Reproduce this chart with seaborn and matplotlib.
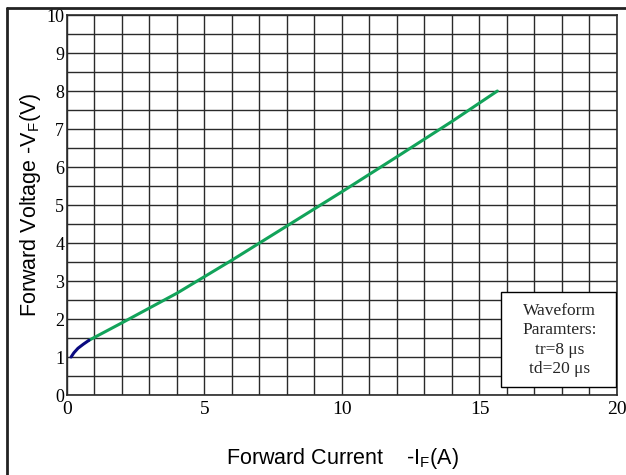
import numpy as np
import pandas as pd
import matplotlib
matplotlib.use("Agg")
import matplotlib.pyplot as plt
from matplotlib.lines import Line2D
from matplotlib.patches import Rectangle
import seaborn as sns

# forward current (A) vs forward voltage (V)
low_current = [0.15, 0.25, 0.4, 0.6, 0.8]
low_voltage = [1.0, 1.11, 1.23, 1.34, 1.44]
high_current = [0.8, 2, 4, 6, 8, 10, 12, 14, 15.65]
high_voltage = [1.44, 1.9, 2.68, 3.55, 4.45, 5.35, 6.27, 7.2, 8.0]

x_ticks = [0, 5, 10, 15, 20]
y_ticks = list(range(0, 11))
note_lines = ["Waveform", "Paramters:", "tr=8 \u03bcs", "td=20 \u03bcs"]

sns.set_theme(style="white")
plt.rcParams['font.family'] = ['Liberation Sans', 'DejaVu Sans']

fig = plt.figure(figsize=(6.26, 4.75), dpi=100)
ax = fig.add_axes([0.107, 0.1684, 0.8786, 0.80])

# grid: every 1 A across, every 0.5 V up
for gx in np.arange(0, 21, 1):
    ax.axvline(gx, color='#2a2a2a', lw=1.0, zorder=1)
for gy in np.arange(0, 10.01, 0.5):
    ax.axhline(gy, color='#2a2a2a', lw=1.0, zorder=1)

low = pd.DataFrame({'I': low_current, 'V': low_voltage})
high = pd.DataFrame({'I': high_current, 'V': high_voltage})
sns.lineplot(data=high, x='I', y='V', ax=ax, color='#12a35a', lw=2.2, zorder=3)
sns.lineplot(data=low, x='I', y='V', ax=ax, color='#0a0a80', lw=2.2, zorder=4)

ax.set_xlim(0, 20)
ax.set_ylim(0, 10)
ax.set_xticks(x_ticks)
ax.set_yticks(y_ticks)
ax.set_xticklabels([str(t) for t in x_ticks], family='Liberation Serif', fontsize=14)
ax.set_yticklabels([str(t) for t in y_ticks], family='Liberation Serif', fontsize=13)
ax.tick_params(axis='both', length=0, colors='black')
ax.tick_params(axis='x', pad=4.5)
ax.tick_params(axis='y', pad=2)
for s in ax.spines.values():
    s.set_color('#2a2a2a')
    s.set_linewidth(1.2)

ax.set_xlabel(r'Forward Current    -I$_{\mathregular{F}}$(A)', fontsize=15.5, labelpad=20, color='black')
ax.set_ylabel(r'Forward Voltage -V$_{\mathregular{F}}$(V)', fontsize=15.5, labelpad=2, color='black')

# waveform parameter box
ax.add_patch(Rectangle((15.8, 0.2), 4.15, 2.5, fc='white', ec='black', lw=1.0, zorder=5))
ax.text(17.9, 1.45, "\n".join(note_lines), ha='center', va='center',
        family='Liberation Serif', fontsize=12.5, linespacing=1.3, zorder=6)

# outer frame of the figure (cropped on right and bottom)
fig.add_artist(Line2D([7 / 626, 7 / 626], [0, 1 - 8 / 475], transform=fig.transFigure, color='#222222', lw=2))
fig.add_artist(Line2D([7 / 626, 1], [1 - 8 / 475, 1 - 8 / 475], transform=fig.transFigure, color='#222222', lw=2))

fig.savefig('out.png', dpi=100)
